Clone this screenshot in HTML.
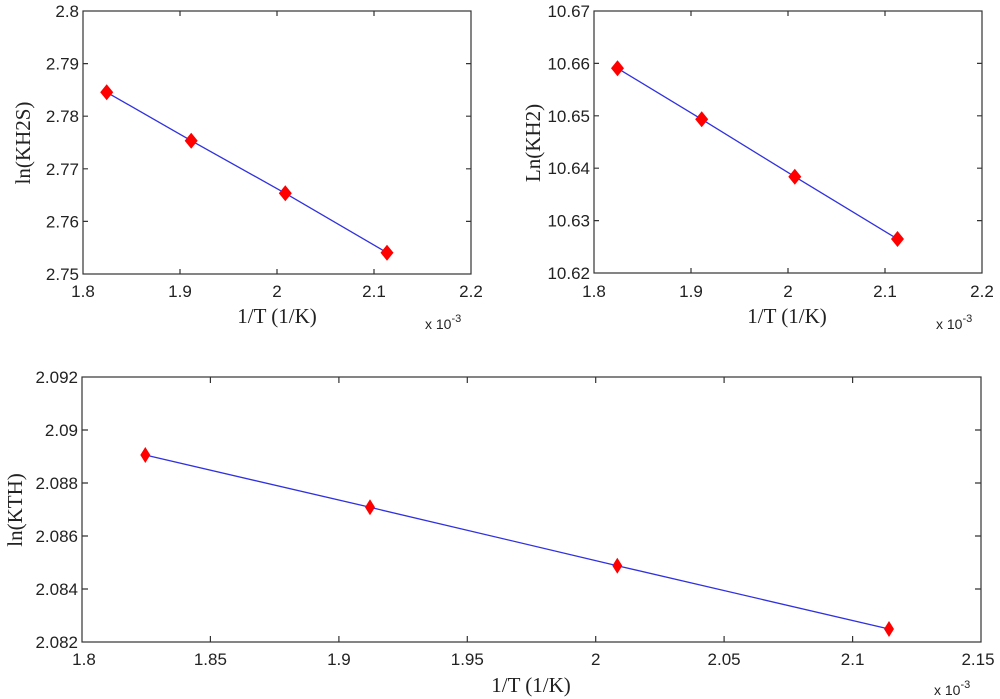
<!DOCTYPE html>
<html><head><meta charset="utf-8"><style>
html,body{margin:0;padding:0;background:#fff}
svg{display:block}
.t{font-family:"Liberation Sans",sans-serif;font-size:17px;fill:#222}
.l{font-family:"Liberation Serif",serif;font-size:21px;fill:#222}
.s{font-family:"Liberation Sans",sans-serif;font-size:14px;fill:#222}
</style></head><body>
<svg width="1000" height="699" viewBox="0 0 1000 699" xmlns="http://www.w3.org/2000/svg">
<g stroke="#333" stroke-width="1.2" fill="none">
<rect x="83" y="11" width="388" height="263"/>
<path d="M180 274v-5M277 274v-5M374 274v-5M180 11v5M277 11v5M374 11v5M83 63.6h5M83 116.2h5M83 168.8h5M83 221.4h5M471 63.6h-5M471 116.2h-5M471 168.8h-5M471 221.4h-5"/>
<rect x="594" y="11" width="388" height="262"/>
<path d="M691 273v-5M788 273v-5M885 273v-5M691 11v5M788 11v5M885 11v5M594 63.4h5M594 115.8h5M594 168.2h5M594 220.6h5M982 63.4h-5M982 115.8h-5M982 168.2h-5M982 220.6h-5"/>
<rect x="82" y="377" width="899" height="265"/>
<path d="M210.4 642v-6M338.9 642v-6M467.3 642v-6M595.7 642v-6M724.1 642v-6M852.6 642v-6M210.4 377v6M338.9 377v6M467.3 377v6M595.7 377v6M724.1 377v6M852.6 377v6M82 430h6M82 483h6M82 536h6M82 589h6M981 430h-6M981 483h-6M981 536h-6M981 589h-6"/>
</g>
<g stroke="#3030e0" stroke-width="1.3" fill="none">
<polyline points="106.7,92.3 191.2,140.7 285.3,193.3 387,252.7"/>
<polyline points="617.5,68.3 701.7,119.3 794.8,176.7 897.5,239"/>
<polyline points="145.3,455 370,507.3 617.3,565.7 889,629"/>
</g>
<g fill="#f00">
<path d="M106.7 84.3l6.5 8-6.5 8-6.5-8z M191.2 132.7l6.5 8-6.5 8-6.5-8z M285.3 185.3l6.5 8-6.5 8-6.5-8z M387 244.7l6.5 8-6.5 8-6.5-8z"/>
<path d="M617.5 60.3l6.5 8-6.5 8-6.5-8z M701.7 111.3l6.5 8-6.5 8-6.5-8z M794.8 168.7l6.5 8-6.5 8-6.5-8z M897.5 231l6.5 8-6.5 8-6.5-8z"/>
<path d="M145.3 447l5 8-5 8-5-8z M370 499.3l5 8-5 8-5-8z M617.3 557.7l5 8-5 8-5-8z M889 621l5 8-5 8-5-8z"/>
</g>
<g class="t" text-anchor="end">
<text x="79" y="17">2.8</text><text x="79" y="69.6">2.79</text><text x="79" y="122.2">2.78</text><text x="79" y="174.8">2.77</text><text x="79" y="227.4">2.76</text><text x="79" y="280">2.75</text>
<text x="590" y="17">10.67</text><text x="590" y="69.4">10.66</text><text x="590" y="121.8">10.65</text><text x="590" y="174.2">10.64</text><text x="590" y="226.6">10.63</text><text x="590" y="279">10.62</text>
<text x="78" y="383">2.092</text><text x="78" y="436">2.09</text><text x="78" y="489">2.088</text><text x="78" y="542">2.086</text><text x="78" y="595">2.084</text><text x="78" y="648">2.082</text>
</g>
<g class="t" text-anchor="middle">
<text x="83" y="297">1.8</text><text x="180" y="297">1.9</text><text x="277" y="297">2</text><text x="374" y="297">2.1</text><text x="471" y="297">2.2</text>
<text x="594" y="297">1.8</text><text x="691" y="297">1.9</text><text x="788" y="297">2</text><text x="885" y="297">2.1</text><text x="982" y="297">2.2</text>
<text x="84" y="665">1.8</text><text x="210.4" y="665">1.85</text><text x="338.9" y="665">1.9</text><text x="467.3" y="665">1.95</text><text x="595.7" y="665">2</text><text x="724.1" y="665">2.05</text><text x="852.6" y="665">2.1</text><text x="978" y="665">2.15</text>
</g>
<g class="l" text-anchor="middle">
<text x="277" y="323">1/T (1/K)</text>
<text x="787" y="323">1/T (1/K)</text>
<text x="531" y="692">1/T (1/K)</text>
<text transform="translate(30,143) rotate(-90)">ln(KH2S)</text>
<text transform="translate(540,143) rotate(-90)">Ln(KH2)</text>
<text transform="translate(22,510) rotate(-90)">ln(KTH)</text>
</g>
<g class="s">
<text x="425" y="329">x 10<tspan dy="-7" font-size="11">-3</tspan></text>
<text x="936" y="329">x 10<tspan dy="-7" font-size="11">-3</tspan></text>
<text x="934" y="695">x 10<tspan dy="-7" font-size="11">-3</tspan></text>
</g>
</svg>
</body></html>
